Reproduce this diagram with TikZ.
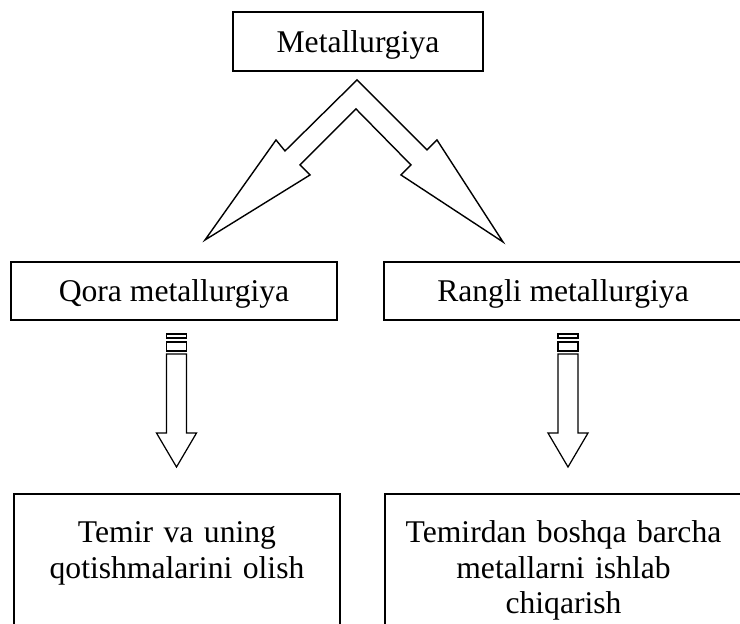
\documentclass[tikz,border=0pt]{standalone}
\usepackage{fontspec}
\setmainfont{Liberation Serif}
\usetikzlibrary{calc}
\tikzset{
 catbox/.style={
 rectangle,
 draw=black,
 line width=1.1pt,
 align=center,
 inner sep=0pt,
 text depth=0pt,
 font=\fontsize{18}{20}\selectfont
 },
 descbox/.style={
 catbox,
 anchor=north,
 text height=0.98cm,
 text depth=3cm
 },
 chevron/.style={draw=black, line width=0.8pt, line join=miter},
 blockarrow/.style={draw=black, line width=0.7pt, line join=miter}
}

\begin{document}
\begin{tikzpicture}[x=0.02cm, y=-0.02cm]
 \useasboundingbox (0,0) rectangle (740,623);
 \clip (0,0) rectangle (740,623);

 \node[catbox, minimum width=5cm, minimum height=1.18cm] (metal) at (358,41.5) {Metallurgiya};
 \node[catbox, minimum width=6.52cm, minimum height=1.16cm] (qora) at (174,291) {Qora metallurgiya};
 \node[catbox, minimum width=7.16cm, minimum height=1.16cm] (rangli) at (563,291) {Rangli metallurgiya};
 \node[descbox, text width=6.52cm] (temir) at (177,493) {Temir va uning\\qotishmalarini olish};
 \node[descbox, text width=7.14cm] (boshqa) at (563.5,493) {Temirdan boshqa barcha\\metallarni ishlab\\chiqarish};

 % split arrow under the top box
 \coordinate (apex) at ($(metal.south)+(-1,8)$);
 \draw[chevron, shift={(apex)}] (0,0) -- (-72,71) -- (-81,60) -- (-152,160) -- (-47,95) -- (-57,85)
 -- (-1,29) -- (54,85) -- (44,95) -- (146,162) -- (80,60) -- (70,70) -- cycle;

 % striped arrows
 \foreach \src/\dst/\dx in {qora/temir/2.5, rangli/boshqa/5} {
 \coordinate (top) at ($(\src.south)+(\dx,0)$);
 \coordinate (tip) at ($(top |- \dst.north)+(0,-26)$);
 \draw[blockarrow] ($(top)+(-10,13)$) rectangle ($(top)+(10,17)$);
 \draw[blockarrow] ($(top)+(-10,21)$) rectangle ($(top)+(10,30)$);
 \draw[blockarrow] ($(top)+(-10,33)$) |- ($(tip)+(-20,-34)$) -- (tip) -- ($(tip)+(20,-34)$) -| ($(top)+(10,33)$) -- cycle;
 }
\end{tikzpicture}
\end{document}
